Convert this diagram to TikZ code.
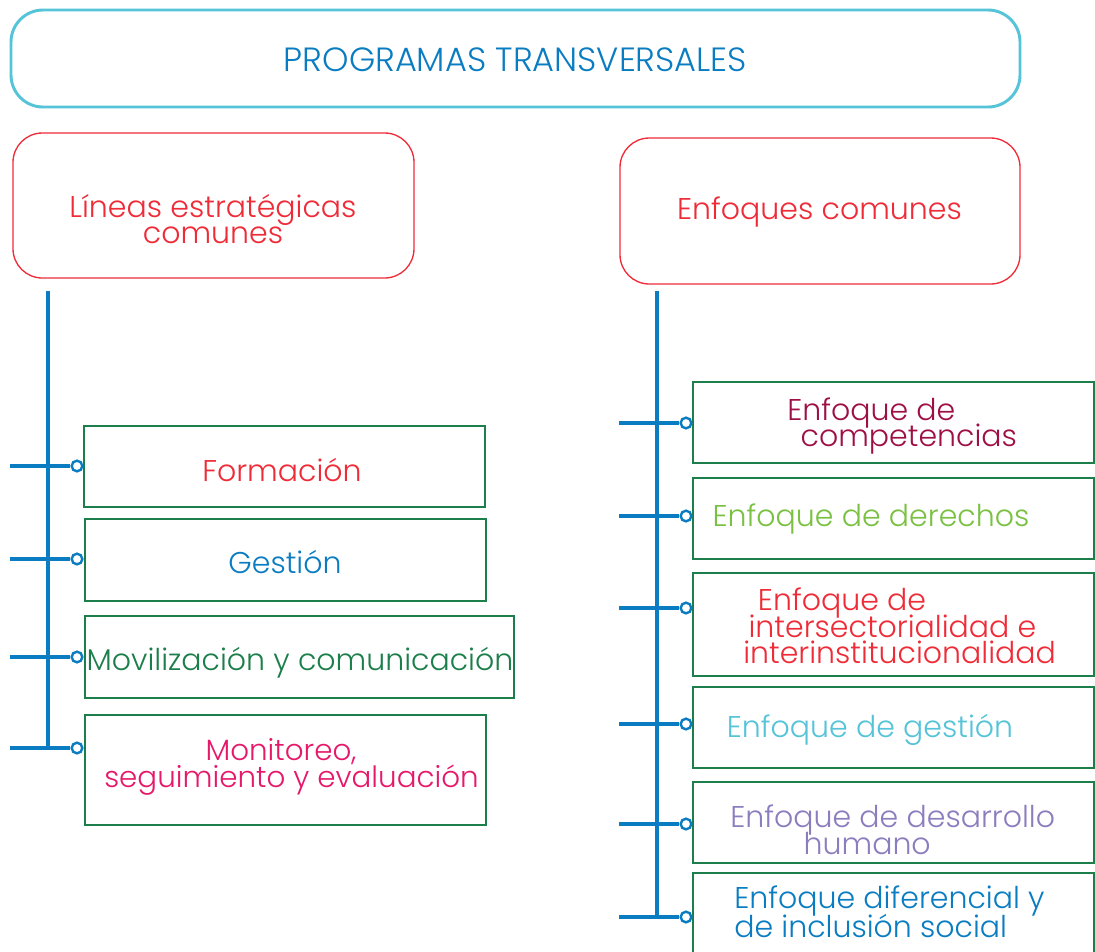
\documentclass[tikz,border=0pt]{standalone}
\usepackage{fontspec}
\setmainfont{Poppins}[UprightFont={* Light}]
\definecolor{tcyan}{HTML}{55C3D8}
\definecolor{tblue}{HTML}{0A7CC1}
\definecolor{tred}{HTML}{EE2B37}
\definecolor{tgreen}{HTML}{1C7E4A}
\definecolor{tpink}{HTML}{E6186A}
\definecolor{tdred}{HTML}{9E1045}
\definecolor{tlgreen}{HTML}{7AC143}
\definecolor{tpurple}{HTML}{8B7DBE}
\begin{document}
\setlength{\lineskiplimit}{-50pt}
\begin{tikzpicture}[x=0.75pt,y=-0.75pt,
  lbl/.style={font=\fontsize{22.5}{19}\selectfont, align=center, inner sep=0pt},
  lblL/.style={font=\fontsize{22.5}{20}\selectfont, align=left, inner sep=0pt, anchor=west},
  bigbox/.style={draw=tred, line width=1pt, rounded corners=22pt, inner sep=0pt},
  itembox/.style={draw=tgreen, line width=0.9pt, inner sep=0pt},
  knob/.style={circle, draw=tblue, fill=white, line width=1.8pt, minimum size=8pt, inner sep=0pt},
  wire/.style={draw=tblue, line width=2.3pt}]
\useasboundingbox (0,0) rectangle (1095,951);
% title
\node[draw=tcyan, line width=2.2pt, rounded corners=24pt, minimum width=1009*0.75pt, minimum height=97*0.75pt, inner sep=0pt] (title) at (515.5,58.5) {};
\node[lbl, font=\fontsize{25.2}{30}\selectfont, text=tblue] (titletxt) at (515.5,60) {PROGRAMAS TRANSVERSALES};
% top boxes
\node[bigbox, minimum width=401*0.75pt, minimum height=145*0.75pt] (lineas) at (213.5,205.5) {};
\node[lbl, text=tred] (lineastxt) at (213,219) {Líneas estratégicas\\comunes};
\node[bigbox, minimum width=400*0.75pt, minimum height=146*0.75pt] (enfoques) at (820,211) {};
\node[lbl, text=tred] (enfoquestxt) at (819.5,212) {Enfoques comunes};
% left items
\node[itembox, minimum width=401*0.75pt, minimum height=81*0.75pt] (formacion) at (284.5,466.5) {};
\node[lbl, text=tred] (formaciontxt) at (282,470) {Formación};
\node[itembox, minimum width=401*0.75pt, minimum height=82*0.75pt] (gestion) at (285.5,560) {};
\node[lbl, text=tblue] (gestiontxt) at (285,562) {Gestión};
\node[itembox, minimum width=429*0.75pt, minimum height=82*0.75pt] (movil) at (299.5,657) {};
\node[lbl, text=tgreen] (moviltxt) at (300,663) {Movilización y comunicación};
\node[itembox, minimum width=401*0.75pt, minimum height=110*0.75pt] (monitoreo) at (285.5,770) {};
\node[lblL, font=\fontsize{22}{20}\selectfont, text=tpink] (monitoreotxt) at (104,767) {\hspace*{76pt}Monitoreo,\\seguimiento y evaluación};
% right items
\node[itembox, minimum width=401*0.75pt, minimum height=81*0.75pt] (comp) at (893.5,422.5) {};
\node[lblL, text=tdred] (comptxt) at (787,426) {Enfoque de\\\hspace*{10pt}competencias};
\node[itembox, minimum width=401*0.75pt, minimum height=81*0.75pt] (derechos) at (893.5,518.5) {};
\node[lbl, text=tlgreen] (derechostxt) at (871,519) {Enfoque de derechos};
\node[itembox, minimum width=401*0.75pt, minimum height=103*0.75pt] (inter) at (893.5,624.5) {};
\node[lblL, text=tred] (intertxt) at (743,626) {\hspace*{11pt}Enfoque de\\\hspace*{4pt}intersectorialidad e\\interinstitucionalidad};
\node[itembox, minimum width=401*0.75pt, minimum height=81*0.75pt] (gest) at (893.5,727.5) {};
\node[lbl, text=tcyan] (gesttxt) at (870,730) {Enfoque de gestión};
\node[itembox, minimum width=401*0.75pt, minimum height=81*0.75pt] (desarrollo) at (893.5,822.5) {};
\node[lblL, text=tpurple] (desarrollotxt) at (730,830) {Enfoque de desarrollo\\\hspace*{55pt}humano};
\node[itembox, minimum width=401*0.75pt, minimum height=90*0.75pt] (difer) at (893.5,918) {};
\node[lblL, font=\fontsize{22.5}{21.5}\selectfont, text=tblue] (difertxt) at (734,912) {Enfoque diferencial y\\de inclusión social};
% left connectors
\coordinate (ltop) at (48,291);
\coordinate (lbot) at (48,748);
\draw[wire] (ltop) -- (lbot);
\foreach \i/\y in {1/466,2/559,3/657,4/748}{
  \coordinate (ls\i) at (10,\y);
  \node[knob] (lk\i) at (77,\y) {};
  \draw[wire] (ls\i) -- (lk\i.west);
}
% right connectors
\coordinate (rtop) at (657,291);
\coordinate (rbot) at (657,917);
\draw[wire] (rtop) -- (rbot);
\foreach \i/\y in {1/423,2/516,3/608,4/724,5/824,6/917}{
  \coordinate (rs\i) at (619,\y);
  \node[knob] (rk\i) at (686,\y) {};
  \draw[wire] (rs\i) -- (rk\i.west);
}
\end{tikzpicture}
\end{document}
